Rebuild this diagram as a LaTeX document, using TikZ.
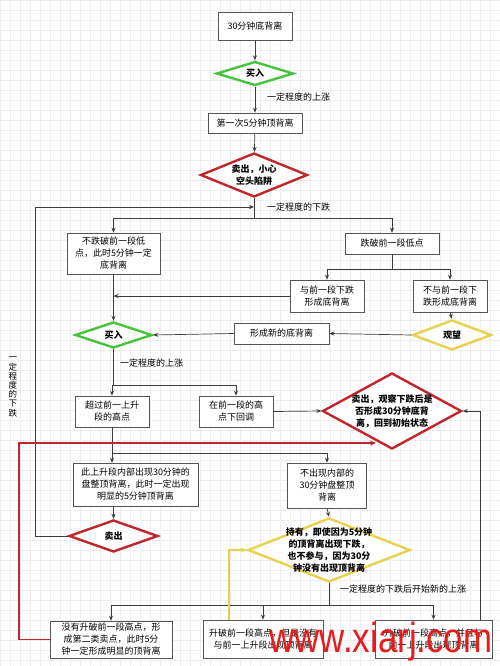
\documentclass[tikz,border=0pt]{standalone}
\usepackage{fontspec}
\newfontfamily\cjk{Noto Sans CJK SC}
\newfontfamily\wmfont{Liberation Sans}
\usetikzlibrary{shapes.geometric,arrows.meta}
\definecolor{linec}{HTML}{3C3C3C}
\definecolor{boxc}{HTML}{555555}
\definecolor{grn}{HTML}{48C43C}
\definecolor{rd}{HTML}{C0262E}
\definecolor{ylw}{HTML}{E8D050}
\definecolor{wm}{HTML}{E81C1C}
\begin{document}
\begin{tikzpicture}[x=1pt,y=-1pt,
  box/.style={draw=boxc, line width=0.6pt, fill=white, align=center, inner sep=1pt,
    font=\cjk\fontsize{9}{12}\selectfont},
  dia/.style={shape=diamond, line width=2.4pt, fill=white, align=center, inner sep=-40pt,
    font=\cjk\bfseries\fontsize{9}{12}\selectfont},
  lab/.style={font=\cjk\fontsize{9}{11}\selectfont, inner sep=0pt, anchor=west},
  ln/.style={draw=linec, line width=0.7pt},
  arr/.style={ln, -{Stealth[length=5pt,width=4pt]}},
  redarr/.style={draw=rd, line width=1.8pt, -{Stealth[length=6pt,width=5pt]}},
  yelarr/.style={draw=ylw, line width=1.8pt, -{Stealth[length=6pt,width=5pt]}}
]
\useasboundingbox (0,0) rectangle (500,666);
\fill[white] (0,0) rectangle (500,666);
\draw[gray!13, line width=0.3pt, step=10pt] (0,0) grid (500,666);

% nodes
\node[box, minimum width=74pt, minimum height=28pt] (b1) at (255,26) {30分钟底背离};
\node[dia, draw=grn, minimum width=77pt, minimum height=24pt] (d1) at (255,73.5) {买入};
\node[box, minimum width=94pt, minimum height=20pt] (b2) at (255,123) {第一次5分钟顶背离};
\node[dia, draw=rd, minimum width=107pt, minimum height=44pt] (d2) at (254,175) {卖出，小心\\空头陷阱};
\node[box, minimum width=93pt, minimum height=41pt] (b3) at (113.5,253.5) {不跌破前一段低\\点，此时5分钟一定\\底背离};
\node[box, minimum width=94pt, minimum height=21pt] (b4) at (392,243.5) {跌破前一段低点};
\node[box, minimum width=74pt, minimum height=32pt] (b5) at (327,296) {与前一段下跌\\形成底背离};
\node[box, minimum width=74pt, minimum height=32pt] (b6) at (450,296) {不与前一段下\\跌形成底背离};
\node[dia, draw=grn, minimum width=77pt, minimum height=26pt] (d3) at (113.5,335) {买入};
\node[dia, draw=ylw, minimum width=79pt, minimum height=30pt] (d4) at (452,335) {观望};
\node[box, minimum width=95pt, minimum height=21pt] (b7) at (281.5,333.5) {形成新的底背离};
\node[box, minimum width=74pt, minimum height=31pt] (b8) at (112,411.5) {超过前一上升\\段的高点};
\node[box, minimum width=74pt, minimum height=31pt] (b9) at (236,411.5) {在前一段的高\\点下回调};
\node[dia, draw=rd, minimum width=139pt, minimum height=76pt] (d5) at (392,411) {卖出，观察下跌后是\\否形成30分钟底背\\离，回到初始状态};
\node[box, minimum width=125pt, minimum height=43pt] (b10) at (135.5,484.5) {此上升段内部出现30分钟的\\盘整顶背离，此时一定出现\\明显的5分钟顶背离};
\node[box, minimum width=79pt, minimum height=45pt] (b11) at (327,485.5) {不出现内部的\\30分钟盘整顶\\背离};
\node[dia, draw=rd, minimum width=89pt, minimum height=32pt] (d6) at (113.5,536) {卖出};
\node[dia, draw=ylw, minimum width=162pt, minimum height=64pt] (d7) at (329,550) {持有，即使因为5分钟\\的顶背离出现下跌，\\也不参与，因为30分\\钟没有出现顶背离};
\node[box, minimum width=122pt, minimum height=37pt] (b12) at (111,639.5) {没有升破前一段高点，形\\成第二类卖点，此时5分\\钟一定形成明显的顶背离};
\node[box, minimum width=120pt, minimum height=38pt] (b13) at (263,639) {升破前一段高点，但是没有\\与前一上升段出现顶背离};
\node[box, minimum width=117pt, minimum height=38pt] (b14) at (433.5,639) {升破前一段高点，并且与\\前一上升段出现顶背离};

% labels
\node[lab] (l1) at (267,97) {一定程度的上涨};
\node[lab] (l2) at (267,207) {一定程度的下跌};
\node[lab] (l3) at (120,363) {一定程度的上涨};
\node[lab] (l4) at (340,589) {一定程度的下跌后开始新的上涨};
\node[font=\cjk\fontsize{8.5}{9.2}\selectfont, align=center, inner sep=0pt] (l5) at (13,387) {一\\定\\程\\度\\的\\下\\跌};

% coordinates
\coordinate (s1) at (254,218);
\coordinate (fb) at (254,207);
\coordinate (s2) at (392,269);
\coordinate (j1) at (113.5,296);
\coordinate (s3) at (113.5,385);
\coordinate (j2) at (112,453);
\coordinate (s4) at (329,605);
\coordinate (redend) at (376,443);

% connectors
\draw[arr] (b1) -- (d1);
\draw[arr] (d1) -- (b2);
\draw[arr] (b2) -- (d2);
\draw[ln] (d2.south) -- (s1);
\draw[arr] (s1) -| (b3.north);
\draw[arr] (s1) -| (b4.north);
\draw[arr] (d6.west) -- (35,536) |- (fb);
\draw[ln] (b4.south) -- (s2);
\draw[arr] (s2) -| (b5.north);
\draw[arr] (s2) -| (b6.north);
\draw[arr] (b6.south) -- (d4.north);
\draw[arr] (d4.west) -- (b7.east);
\draw[arr] (b7.west) -- (d3.east);
\draw[arr] (b5.west) -- (j1);
\draw[arr] (b3.south) -- (d3.north);
\draw[ln] (d3.south) -- (s3);
\draw[arr] (s3) -| (b8.north);
\draw[arr] (s3) -| (b9.north);
\draw[arr] (b9.east) -- (d5.west);
\draw[arr] (b8.south) -- (b8.south |- b10.north);
\draw[arr] (b10.south -| d6.north) -- (d6.north);
\draw[arr] (j2) -| (b11.north);
\draw[arr] (b11.south) -- (d7.north);
\draw[ln] (d7.south) -- (s4);
\draw[arr] (s4) -| (b12.north);
\draw[arr] (s4) -| (b13.north);
\draw[arr] (s4) -| (b14.north);
\draw[arr] ([xshift=-12pt]b14.north east) |- (d5.east);
\draw[redarr] (b12.west) -- ++(-31,0) |- (redend);
\draw[yelarr] ([xshift=-34pt]b13.north) |- (d7.west);

% watermark
\node[font=\wmfont\fontsize{42}{42}\selectfont, text=wm, anchor=base, xscale=0.83, inner sep=0pt] (wm) at (381,652) {www.xiarj.com};
\end{tikzpicture}
\end{document}
